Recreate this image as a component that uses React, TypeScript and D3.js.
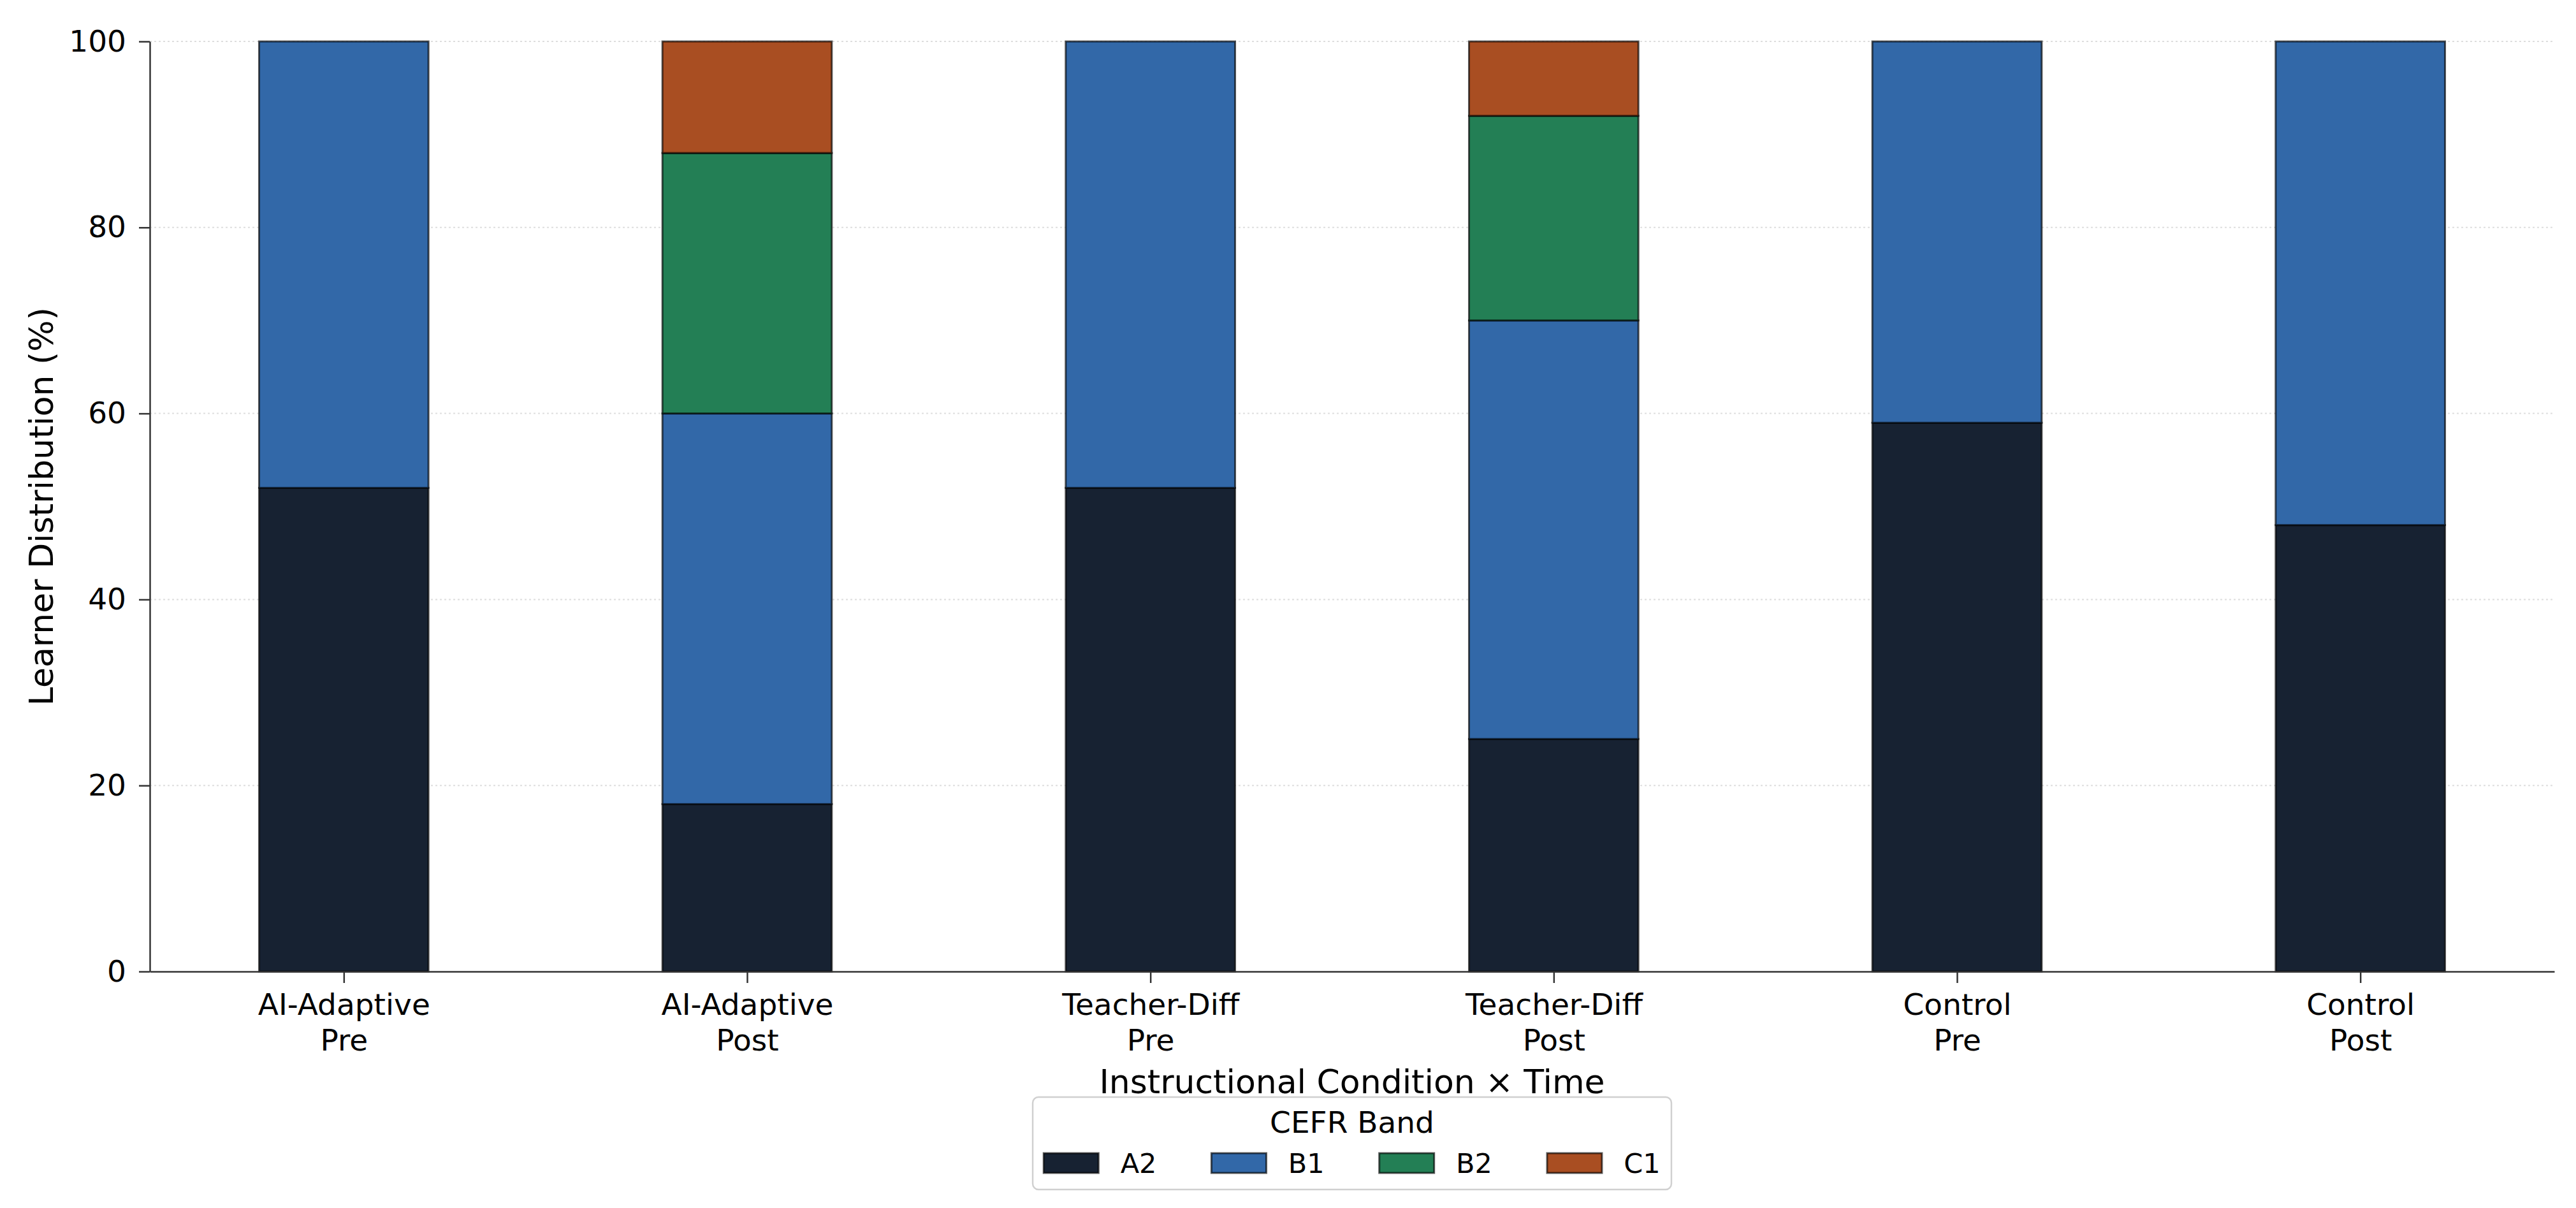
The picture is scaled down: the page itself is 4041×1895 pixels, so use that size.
import { useRef, useEffect } from "react";
import { select, scaleLinear, axisLeft, axisBottom, stack } from "d3";

const conditions = ["AI-Adaptive", "AI-Adaptive", "Teacher-Diff", "Teacher-Diff", "Control", "Control"];
const times = ["Pre", "Post", "Pre", "Post", "Pre", "Post"];
const bands = ["A2", "B1", "B2", "C1"];
const bandColors = ["#172232", "#3268a8", "#237f55", "#a94e22"];

// percentage of learners in each CEFR band, one value per bar
const a2Values = [52, 18, 52, 25, 59, 48];
const b1Values = [48, 42, 48, 45, 41, 52];
const b2Values = [0, 28, 0, 22, 0, 0];
const c1Values = [0, 12, 0, 8, 0, 0];

const yTicks = [0, 20, 40, 60, 80, 100];

const FONT = "DejaVu Sans, sans-serif";

function Chart() {
  const svgRef = useRef<SVGSVGElement | null>(null);

  const width = 4041;
  const height = 1895;

  useEffect(() => {
    if (!svgRef.current) return;
    const svg = select(svgRef.current);
    svg.selectAll("*").remove();

    const margin = { left: 235, right: 34, top: 65, bottom: 371 };
    const barWidth = 0.42;
    const pad = 0.05 * (conditions.length - 1 + barWidth);

    const rows = conditions.map((c, i) => ({
      idx: i,
      A2: a2Values[i],
      B1: b1Values[i],
      B2: b2Values[i],
      C1: c1Values[i],
    }));

    const x = scaleLinear()
      .domain([-barWidth / 2 - pad, conditions.length - 1 + barWidth / 2 + pad])
      .range([margin.left, width - margin.right]);

    const y = scaleLinear()
      .domain([0, 100])
      .range([height - margin.bottom, margin.top]);

    // dotted grid
    svg
      .append("g")
      .selectAll("line")
      .data(yTicks.slice(1))
      .join("line")
      .attr("x1", x.range()[0])
      .attr("x2", x.range()[1])
      .attr("y1", (d) => y(d))
      .attr("y2", (d) => y(d))
      .attr("stroke", "#c8c8c8")
      .attr("stroke-opacity", 0.6)
      .attr("stroke-width", 2)
      .attr("stroke-dasharray", "3 4");

    // stacked bars
    const series = stack<any>().keys(bands)(rows);
    const bw = x(barWidth) - x(0);
    svg
      .append("g")
      .selectAll("g")
      .data(series)
      .join("g")
      .attr("fill", (_, i) => bandColors[i])
      .selectAll("rect")
      .data((s) => s.filter((d) => d[1] - d[0] > 0))
      .join("rect")
      .attr("x", (d) => x(d.data.idx) - bw / 2)
      .attr("width", bw)
      .attr("y", (d) => y(d[1]))
      .attr("height", (d) => y(d[0]) - y(d[1]))
      .attr("stroke", "#000")
      .attr("stroke-opacity", 0.65)
      .attr("stroke-width", 3);

    // y axis
    svg
      .append("g")
      .attr("transform", `translate(${margin.left}, 0)`)
      .call(axisLeft(y).tickValues(yTicks).tickSize(17).tickPadding(20).tickSizeOuter(0))
      .call((g) => g.select(".domain").attr("stroke", "#333").attr("stroke-width", 2.5))
      .call((g) => g.selectAll(".tick line").attr("stroke", "#333").attr("stroke-width", 2.5))
      .call((g) =>
        g.selectAll(".tick text").attr("font-size", 47).attr("font-family", FONT).attr("fill", "#000")
      );

    // x axis
    const xAxis = svg
      .append("g")
      .attr("transform", `translate(0, ${height - margin.bottom})`)
      .call(
        axisBottom(x)
          .tickValues(conditions.map((_, i) => i))
          .tickSize(18)
          .tickSizeOuter(0)
          .tickFormat(() => "")
      )
      .call((g) => g.select(".domain").attr("stroke", "#333").attr("stroke-width", 2.5))
      .call((g) => g.selectAll(".tick line").attr("stroke", "#333").attr("stroke-width", 2.5));

    xAxis.selectAll(".tick text").remove();
    xAxis
      .selectAll(".tick")
      .append("text")
      .attr("font-size", 47)
      .attr("font-family", FONT)
      .attr("fill", "#000")
      .attr("text-anchor", "middle")
      .each(function (d: any) {
        const t = select(this);
        t.append("tspan").attr("x", 0).attr("y", 68).text(conditions[d]);
        t.append("tspan").attr("x", 0).attr("y", 124).text(times[d]);
      });

    // axis titles
    const cx = (x.range()[0] + x.range()[1]) / 2;
    const cy = (y.range()[0] + y.range()[1]) / 2;
    svg
      .append("text")
      .attr("x", cx)
      .attr("y", 1715)
      .attr("text-anchor", "middle")
      .attr("font-size", 52)
      .attr("font-family", FONT)
      .text("Instructional Condition × Time");

    svg
      .append("text")
      .attr("transform", `translate(83, ${cy}) rotate(-90)`)
      .attr("text-anchor", "middle")
      .attr("font-size", 52)
      .attr("font-family", FONT)
      .text("Learner Distribution (%)");

    // legend
    const legFont = 43;
    const handle = 2 * legFont;
    const textPad = 0.8 * legFont;
    const colSpace = 2 * legFont;
    const border = 0.4 * legFont;

    const legend = svg.append("g");
    const box = legend
      .append("rect")
      .attr("fill", "#fff")
      .attr("fill-opacity", 0.8)
      .attr("stroke", "#d0d0d0")
      .attr("stroke-width", 2.5)
      .attr("rx", 9);

    const items = legend
      .selectAll("g.item")
      .data(bands)
      .join("g")
      .attr("class", "item");
    items
      .append("rect")
      .attr("width", handle)
      .attr("height", 31)
      .attr("y", -31)
      .attr("fill", (_, i) => bandColors[i])
      .attr("stroke", "#000")
      .attr("stroke-opacity", 0.65)
      .attr("stroke-width", 3);
    items
      .append("text")
      .attr("x", handle + textPad)
      .attr("font-size", legFont)
      .attr("font-family", FONT)
      .text((d) => d);

    let offset = 0;
    const widths: number[] = [];
    items.each(function () {
      const tw = (select(this).select("text").node() as SVGTextElement).getComputedTextLength();
      widths.push(handle + textPad + tw);
    });
    const total = widths.reduce((a, b) => a + b, 0) + colSpace * (bands.length - 1);
    const left = cx - total / 2;
    items.attr("transform", (_, i) => {
      const tx = left + offset;
      offset += widths[i] + colSpace;
      return `translate(${tx}, 1840)`;
    });

    legend
      .append("text")
      .attr("x", cx)
      .attr("y", 1777)
      .attr("text-anchor", "middle")
      .attr("font-size", 47)
      .attr("font-family", FONT)
      .text("CEFR Band");

    box
      .attr("x", left - border)
      .attr("width", total + 2 * border)
      .attr("y", 1721)
      .attr("height", 145);
  }, []);

  return (
    <svg
      ref={svgRef}
      width={width}
      height={height}
      viewBox={`0 0 ${width} ${height}`}
      style={{ position: "absolute", left: 0, top: 0, background: "#fff" }}
    ></svg>
  );
}

export default function App() {
  return <Chart />;
}
